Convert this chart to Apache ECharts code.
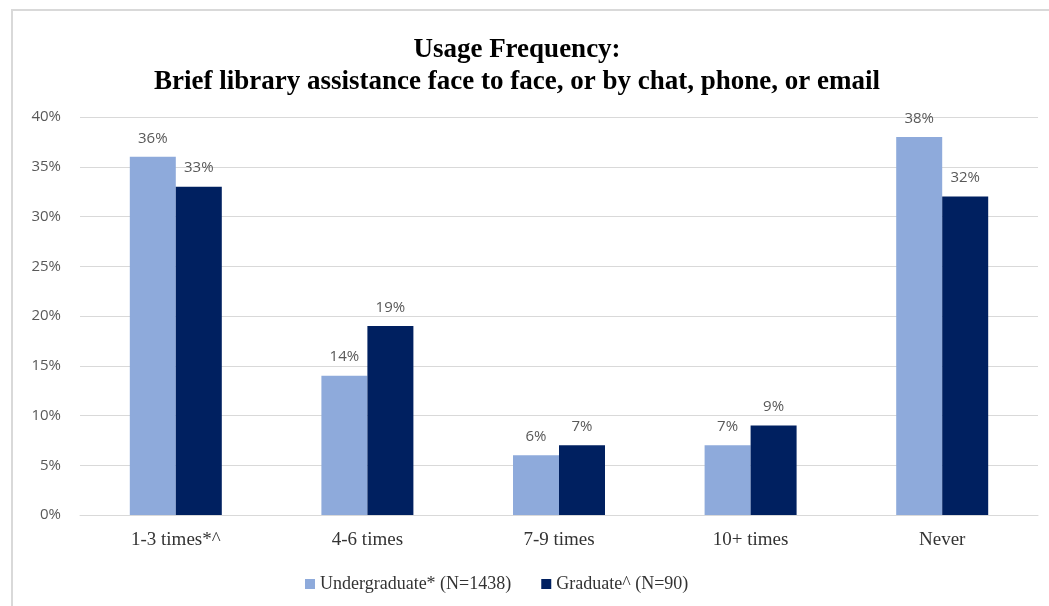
<!DOCTYPE html>
<html>
<head>
<meta charset="utf-8">
<script src="https://cdn.jsdelivr.net/npm/echarts@6/dist/echarts.min.js"></script>
<style>
  html, body { margin: 0; padding: 0; background: #fff; }
  #chart { width: 1049px; height: 606px; }
</style>
</head>
<body>
<div id="chart"></div>
<script>
const categories = ['1-3 times*^', '4-6 times', '7-9 times', '10+ times', 'Never']
const undergradValues = [36, 14, 6, 7, 38]
const gradValues = [33, 19, 7, 9, 32]
const seriesNames = ['Undergraduate* (N=1438)', 'Graduate^ (N=90)']

const chart = echarts.init(document.getElementById('chart'))

const labelStyle = {
  show: true,
  position: 'top',
  distance: 11,
  color: '#595959',
  fontFamily: 'Open Sans',
  fontSize: 15,
  formatter: p => p.value + '%'
}

chart.setOption({
  backgroundColor: '#fff',
  animation: false,
  title: {
    text: 'Usage Frequency:\nBrief library assistance face to face, or by chat, phone, or email',
    left: 512,
    textAlign: 'center',
    top: 29,
    textStyle: {
      fontFamily: 'Liberation Serif',
      fontWeight: 'bold',
      fontSize: 27,
      lineHeight: 32,
      color: '#000'
    }
  },
  graphic: [
    {
      type: 'rect',
      shape: { x: 12, y: 10, width: 1060, height: 620 },
      style: { fill: 'none', stroke: '#d9d9d9', lineWidth: 2 },
      silent: true
    }
  ],
  legend: {
    bottom: 8,
    left: 300,
    itemWidth: 10,
    itemHeight: 10,
    itemGap: 30,
    icon: 'rect',
    textStyle: {
      fontFamily: 'Liberation Serif',
      fontSize: 18,
      color: '#333'
    },
    data: seriesNames
  },
  grid: {
    left: 80,
    right: 11,
    top: 117,
    bottom: 91
  },
  xAxis: {
    type: 'category',
    data: categories,
    axisTick: { show: false },
    axisLine: { lineStyle: { color: '#d9d9d9', width: 1 } },
    axisLabel: {
      margin: 16,
      fontFamily: 'Liberation Serif',
      fontSize: 19,
      color: '#333'
    }
  },
  yAxis: {
    type: 'value',
    min: 0,
    max: 40,
    interval: 5,
    axisLine: { show: false },
    axisTick: { show: false },
    axisLabel: {
      margin: 19,
      fontFamily: 'Open Sans',
      fontSize: 15,
      color: '#595959',
      formatter: v => v + '%'
    },
    splitLine: { lineStyle: { color: '#d9d9d9', width: 1 } }
  },
  series: [
    {
      name: seriesNames[0],
      type: 'bar',
      data: undergradValues,
      barWidth: 46,
      barGap: '0%',
      itemStyle: { color: '#8eaadb' },
      label: labelStyle
    },
    {
      name: seriesNames[1],
      type: 'bar',
      data: gradValues,
      barWidth: 46,
      barGap: '0%',
      itemStyle: { color: '#002060' },
      label: labelStyle
    }
  ]
})
</script>
</body>
</html>
